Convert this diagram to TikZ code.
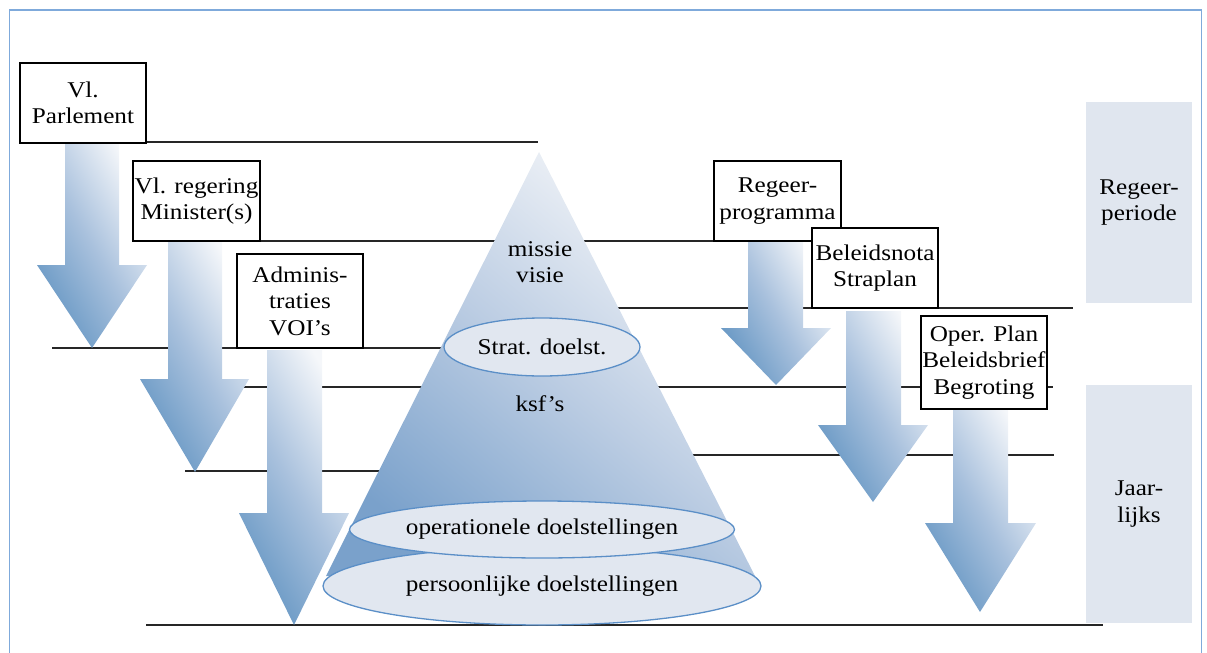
\documentclass[tikz,border=0pt]{standalone}
\usepackage{fontspec}
\setmainfont{Liberation Serif}[FakeStretch=1.12]
\usetikzlibrary{shapes.geometric}
\definecolor{frameblue}{HTML}{7FAADB}
\definecolor{ellline}{HTML}{5B8FC7}
\definecolor{ellfill}{HTML}{E1E7F0}
\definecolor{greyfill}{HTML}{E0E6EF}
\definecolor{arrlight}{HTML}{F5F7FA}
\definecolor{arrmid}{HTML}{A9C1DD}
\definecolor{arrdark}{HTML}{6596C3}
\definecolor{conelight}{HTML}{F7F8FA}
\definecolor{conemid}{HTML}{BCCDE3}
\definecolor{conedark}{HTML}{7AA1CB}
\begin{document}
\begin{tikzpicture}[x=1pt,y=-1pt,
  txt/.style={font=\fontsize{22.5}{26.5}\selectfont, align=center},
  labelbox/.style={txt, draw, line width=1.3pt, fill=white, inner sep=0pt},
  timeline/.style={line width=1.8pt, black!85},
  blockarrow/.style={shading=axis, top color=arrlight, bottom color=arrdark, middle color=arrmid, shading angle=-60},
  conefill/.style={shading=axis, top color=conelight, bottom color=conedark, middle color=conemid, shading angle=-40},
  goal/.style={txt, ellipse, draw=ellline, line width=1.3pt, fill=ellfill, inner sep=0pt},
  period/.style={txt, fill=greyfill, inner sep=0pt}]
\useasboundingbox (0,0) rectangle (1207,653);
% frame
\draw[frameblue, line width=1.4pt] (9.5,653) -- (9.5,10) -- (1201.5,10) -- (1201.5,653);
% period panels
\node[period, minimum width=106pt, minimum height=201pt] (rp) at (1139,202.5) {Regeer-\\periode};
\node[period, minimum width=106pt, minimum height=238pt] (jl) at (1139,504) {Jaar-\\lijks};
% time lines
\draw[timeline] (146,142) -- (538,142);
\draw[timeline] (260,241) -- (714,241);
\draw[timeline] (600,308) -- (1073,308);
\draw[timeline] (52,348) -- (470,348);
\draw[timeline] (243,387) -- (1053,387);
\draw[timeline] (185,471) -- (420,471);
\draw[timeline] (660,455) -- (1054,455);
\draw[timeline] (146,625) -- (1103,625);
% cone
\path[conefill] (539,152) -- (755,576) -- (326,576) -- cycle;
% block arrows
\path[blockarrow] (65,143) -- (119,143) -- (119,265) -- (147,265) -- (92,348) -- (37,265) -- (65,265) -- cycle;
\path[blockarrow] (168,242) -- (222,242) -- (222,379) -- (249,379) -- (195,472) -- (140,379) -- (168,379) -- cycle;
\path[blockarrow] (267,350) -- (322,350) -- (322,513) -- (349,513) -- (294,625) -- (239,513) -- (267,513) -- cycle;
\path[blockarrow] (748,242) -- (803,242) -- (803,328) -- (831,328) -- (776,385) -- (721,328) -- (748,328) -- cycle;
\path[blockarrow] (846,311) -- (901,311) -- (901,425) -- (928,425) -- (873,502) -- (818,425) -- (846,425) -- cycle;
\path[blockarrow] (953,410) -- (1008,410) -- (1008,523) -- (1036,523) -- (980,612) -- (925,523) -- (953,523) -- cycle;
% boxes
\node[labelbox, minimum width=126pt, minimum height=80pt] (parl) at (83,103) {Vl.\\Parlement};
\node[labelbox, minimum width=127pt, minimum height=80pt] (reg) at (196.5,201) {Vl. regering\\Minister(s)};
\node[labelbox, minimum width=126pt, minimum height=94pt] (adm) at (300,301) {Adminis-\\traties\\VOI’s};
\node[labelbox, minimum width=127pt, minimum height=80pt] (prog) at (777.5,201) {Regeer-\\programma};
\node[labelbox, minimum width=126pt, minimum height=80pt] (nota) at (875,268) {Beleidsnota\\Straplan};
\node[labelbox, minimum width=126pt, minimum height=93pt] (oper) at (984,362.5) {Oper. Plan\\Beleidsbrief\\Begroting};
% cone texts and goals
\node[txt] (mv) at (540,262) {missie\\visie};
\node[goal, minimum width=196pt, minimum height=58pt] (strat) at (542,347) {Strat. doelst.};
\node[txt] (ksf) at (540,404) {ksf’s};
\node[goal, minimum width=438pt, minimum height=78pt] (pers) at (542,586) {persoonlijke doelstellingen};
\node[goal, minimum width=384pt, minimum height=57pt] (ops) at (542,529.5) {operationele doelstellingen};
\end{tikzpicture}
\end{document}
